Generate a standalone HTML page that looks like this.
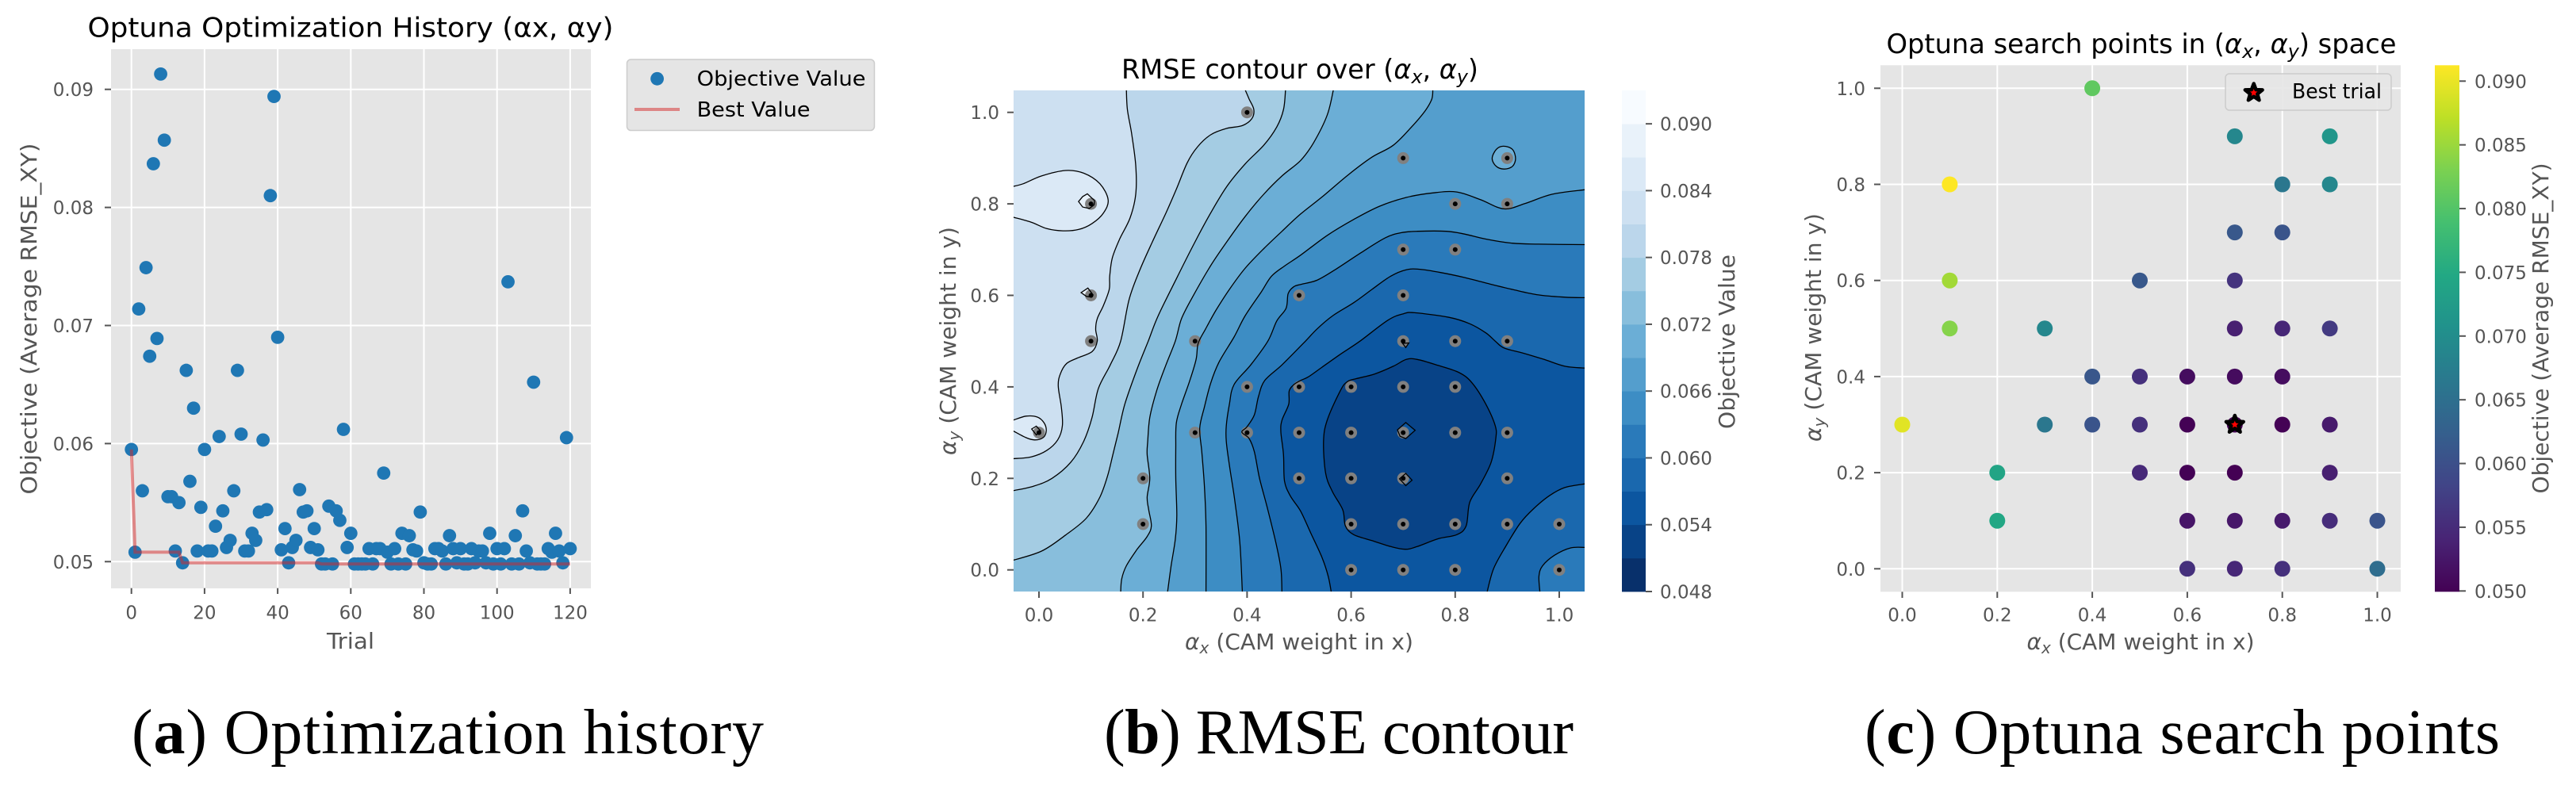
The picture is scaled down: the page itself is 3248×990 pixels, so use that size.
<!DOCTYPE html>
<html lang="en">
<head>
<meta charset="utf-8">
<title>Optuna optimization figure</title>
<style>
html,body{margin:0;padding:0;background:#fff;}
svg{display:block;}
text{font-family:"DejaVu Sans","Liberation Sans",sans-serif;}
.cap{font-family:"Liberation Serif","DejaVu Serif",serif;font-size:80px;fill:#000;}
.title{font-size:34px;fill:#000;text-anchor:middle;}
.lab{font-size:28px;fill:#555;text-anchor:middle;}
.tick{font-size:23px;fill:#555;}
.leg{font-size:26px;fill:#000;}
</style>
</head>
<body>
<svg id="fig" xmlns="http://www.w3.org/2000/svg" width="3248" height="990" viewBox="0 0 3248 990">
<defs>
<clipPath id="clipB"><rect x="1278" y="114" width="720" height="632"/></clipPath>
<linearGradient id="viridisGrad" x1="0" y1="1" x2="0" y2="0"></linearGradient>
</defs>
<rect x="0" y="0" width="3248" height="990" fill="#fff"/>

<g id="panelA">
<rect x="140" y="62" width="605" height="680" fill="#e5e5e5"/>
<g id="gridA"></g>
<g id="pointsA"></g>
<g id="lineA"></g>
<g id="ticksA"></g>
<text class="title" x="442" y="46.6" textLength="663" lengthAdjust="spacingAndGlyphs">Optuna Optimization History (αx, αy)</text>
<text class="lab" x="442" y="818" textLength="60" lengthAdjust="spacingAndGlyphs">Trial</text>
<text class="lab" transform="translate(46 402) rotate(-90)" textLength="443" lengthAdjust="spacingAndGlyphs">Objective (Average RMSE_XY)</text>
<g>
<rect x="790.5" y="75" width="312" height="89.5" rx="5" fill="#e5e5e5" stroke="#ccc" stroke-width="1.5"/>
<circle cx="828.6" cy="99.3" r="8.4" fill="#1f77b4"/>
<text class="leg" x="878.6" y="108" textLength="213" lengthAdjust="spacingAndGlyphs">Objective Value</text>
<line x1="800" y1="138" x2="857" y2="138" stroke="#d62728" stroke-opacity="0.5" stroke-width="4"/>
<text class="leg" x="878.6" y="147" textLength="143" lengthAdjust="spacingAndGlyphs">Best Value</text>
</g>
</g>

<g id="panelB">
<g id="contourFill" clip-path="url(#clipB)"></g>
<g id="pointsB"></g>
<g id="contourLine" clip-path="url(#clipB)"></g>
<g id="dotsB"></g>
<g id="ticksB"></g>
<g id="cbarB"></g>
<text class="title" x="1639" y="99" textLength="450" lengthAdjust="spacingAndGlyphs">RMSE contour over (<tspan font-style="italic">α</tspan><tspan font-style="italic" font-size="24" dy="6">x</tspan><tspan dy="-6">, </tspan><tspan font-style="italic">α</tspan><tspan font-style="italic" font-size="24" dy="6">y</tspan><tspan dy="-6">)</tspan></text>
<text class="lab" x="1638" y="819" textLength="288" lengthAdjust="spacingAndGlyphs"><tspan font-style="italic">α</tspan><tspan font-style="italic" font-size="20" dy="5">x</tspan><tspan dy="-5"> (CAM weight in x)</tspan></text>
<text class="lab" transform="translate(1205 430) rotate(-90)" textLength="288" lengthAdjust="spacingAndGlyphs"><tspan font-style="italic">α</tspan><tspan font-style="italic" font-size="20" dy="5">y</tspan><tspan dy="-5"> (CAM weight in y)</tspan></text>
<text class="lab" transform="translate(2187 431) rotate(-90)" textLength="220" lengthAdjust="spacingAndGlyphs">Objective Value</text>
</g>

<g id="panelC">
<rect x="2371" y="82.3" width="656" height="664" fill="#e5e5e5"/>
<g id="gridC"></g>
<g id="pointsC"></g>
<g id="starC"></g>
<g id="ticksC"></g>
<g id="cbarC"></g>
<text class="title" x="2700" y="67" textLength="643" lengthAdjust="spacingAndGlyphs">Optuna search points in (<tspan font-style="italic">α</tspan><tspan font-style="italic" font-size="24" dy="6">x</tspan><tspan dy="-6">, </tspan><tspan font-style="italic">α</tspan><tspan font-style="italic" font-size="24" dy="6">y</tspan><tspan dy="-6">) space</tspan></text>
<text class="lab" x="2699" y="819" textLength="287" lengthAdjust="spacingAndGlyphs"><tspan font-style="italic">α</tspan><tspan font-style="italic" font-size="20" dy="5">x</tspan><tspan dy="-5"> (CAM weight in x)</tspan></text>
<text class="lab" transform="translate(2296 413) rotate(-90)" textLength="288" lengthAdjust="spacingAndGlyphs"><tspan font-style="italic">α</tspan><tspan font-style="italic" font-size="20" dy="5">y</tspan><tspan dy="-5"> (CAM weight in y)</tspan></text>
<text class="lab" transform="translate(3213 414) rotate(-90)" textLength="417" lengthAdjust="spacingAndGlyphs">Objective (Average RMSE_XY)</text>
<g id="legendC">
<rect x="2806" y="93" width="209" height="46" rx="5" fill="#e5e5e5" fill-opacity="0.9" stroke="#ccc" stroke-width="1.5"/>
<text class="leg" x="2890" y="124" textLength="113" lengthAdjust="spacingAndGlyphs">Best trial</text>
</g>
</g>

<text class="cap" x="166" y="950" textLength="797">(<tspan font-weight="bold">a</tspan>) Optimization history</text>
<text class="cap" x="1392" y="950" textLength="592">(<tspan font-weight="bold">b</tspan>) RMSE contour</text>
<text class="cap" x="2351" y="950" textLength="801">(<tspan font-weight="bold">c</tspan>) Optuna search points</text>
</svg>

<script>
// ---------- panel (a) data ----------
const trialValues = [
.0595,.0508,.0714,.0560,.0749,.0674,.0837,.0689,.0913,.0857,
.0555,.0555,.0509,.0550,.0499,.0662,.0568,.0630,.0509,.0546,
.0595,.0509,.0509,.0530,.0606,.0543,.0512,.0518,.0560,.0662,
.0608,.0509,.0509,.0524,.0518,.0542,.0603,.0544,.0810,.0894,
.0690,.0510,.0528,.0499,.0512,.0518,.0561,.0542,.0543,.0512,
.0528,.0510,.0498,.0498,.0547,.0498,.0543,.0535,.0612,.0512,
.0524,.0498,.0498,.0498,.0498,.0511,.0498,.0511,.0511,.0575,
.0508,.0498,.0511,.0498,.0524,.0498,.0522,.0510,.0509,.0542,
.0499,.0498,.0498,.0511,.0511,.0509,.0498,.0522,.0511,.0499,
.0511,.0498,.0498,.0511,.0499,.0509,.0509,.0499,.0524,.0498,
.0511,.0498,.0511,.0737,.0498,.0522,.0498,.0543,.0509,.0499,
.0652,.0498,.0498,.0498,.0511,.0508,.0524,.0509,.0499,.0605,
.0511];
const bestTrials = [0,1,13,14,51,52,120];
const bestValues = [.0595,.0508,.0508,.0499,.0499,.0498,.0498];
const historyXTicks = [0,20,40,60,80,100,120];
const historyYTicks = [0.05,0.06,0.07,0.08,0.09];

// ---------- shared sample points for (b) and (c) ----------
const sampleX = [0,.1,.1,.1,.2,.2,.3,.3,.4,.4,.4,.5,.5,.5,.5,.6,.6,.6,.6,.6,.7,.7,.7,.7,.7,.7,.7,.7,.7,.8,.8,.8,.8,.8,.8,.8,.9,.9,.9,.9,.9,.9,1,1];
const sampleY = [.3,.8,.6,.5,.2,.1,.5,.3,1,.4,.3,.6,.4,.3,.2,.4,.3,.2,.1,0,.9,.7,.6,.5,.4,.3,.2,.1,0,.8,.7,.5,.4,.3,.1,0,.9,.8,.5,.3,.2,.1,.1,0];
const sampleObjective = [.0895,.0913,.0855,.0837,.0740,.0745,.0689,.0662,.0810,.0610,.0606,.0612,.0555,.0555,.0546,.0512,.0499,.0499,.0522,.0555,.0689,.0612,.0560,.0535,.0511,.0498,.0498,.0524,.0543,.0662,.0605,.0543,.0512,.0499,.0528,.0555,.0715,.0689,.0568,.0528,.0535,.0550,.0606,.0645];
const bestTrialX = [0.7];
const bestTrialY = [0.3];

// ---------- panel (b) contour data: [alpha_x, alpha_y] vertices per level ----------
const contourLevels = [.048,.051,.054,.057,.060,.063,.066,.069,.072,.075,.078,.081,.084,.087,.090,.093];
const contourBandColors = ['#08306b','#084387','#0c56a0','#1a68ae','#2a7aba','#3d8dc4','#549ecd','#6baed6','#88bedc','#a4cce3','#bbd6eb','#cde0f1','#dbe9f6','#e9f2fa','#f7fbff'];
const contourTicks = [.048,.054,.060,.066,.072,.078,.084,.090];
const axisTicks = [0,.2,.4,.6,.8,1];

const cornerTL = [[-.05,1.05]];
const cornerBLTL = [[-.05,-.05],[-.05,1.05]];
const cornerAll = [[-.05,-.05],[-.05,1.05],[1.05,1.05]];
const cornerBR = [[1.05,-.05]];

const level057 = [[1.05,.441],[1.011,.445],[.971,.460],[.930,.474],[.894,.485],[.877,.500],[.859,.518],[.828,.538],[.788,.552],[.722,.562],[.701,.560],[.671,.546],[.617,.500],[.579,.471],[.544,.443],[.518,.422],[.503,.414],[.490,.405],[.481,.391],[.480,.362],[.467,.327],[.465,.301],[.470,.252],[.472,.194],[.483,.162],[.503,.128],[.523,.079],[.544,.027],[.556,-.014],[.562,-.05]];
const level057corner = [[1.05,.188],[1.011,.180],[.981,.162],[.950,.133],[.925,.102],[.899,.055],[.874,.003],[.861,-.05]];
const level060 = [[1.05,.595],[1.011,.596],[.960,.601],[.910,.613],[.859,.627],[.818,.639],[.772,.650],[.732,.657],[.706,.656],[.676,.642],[.640,.613],[.605,.584],[.564,.555],[.534,.526],[.508,.495],[.467,.448],[.434,.414],[.422,.379],[.414,.339],[.400,.313],[.390,.301],[.404,.287],[.414,.258],[.424,.200],[.440,.131],[.455,.061],[.465,.003],[.467,-.05]];
const level060corner = [[1.05,.049],[1.022,.048],[.991,.032],[.968,.009],[.961,-.014],[.963,-.05]];
const level063 = [[1.05,.711],[.960,.712],[.910,.714],[.859,.723],[.818,.734],[.783,.740],[.727,.740],[.696,.737],[.666,.726],[.620,.694],[.569,.656],[.534,.633],[.503,.624],[.490,.619],[.479,.604],[.475,.572],[.457,.544],[.440,.500],[.407,.448],[.375,.405],[.366,.362],[.360,.315],[.360,.281],[.366,.229],[.376,.154],[.386,.061],[.391,-.05]];
const level066 = [[1.05,.831],[.986,.821],[.935,.801],[.894,.789],[.849,.809],[.803,.826],[.757,.824],[.706,.814],[.655,.795],[.605,.766],[.554,.731],[.503,.688],[.473,.665],[.447,.642],[.427,.607],[.396,.555],[.375,.509],[.346,.454],[.330,.408],[.318,.356],[.309,.310],[.313,.258],[.318,.183],[.321,.096],[.321,-.05]];
const level069 = [[.757,1.05],[.755,1.029],[.742,1.003],[.716,.968],[.681,.928],[.640,.902],[.595,.864],[.544,.815],[.503,.778],[.467,.740],[.432,.702],[.396,.659],[.366,.613],[.340,.567],[.320,.526],[.306,.495],[.302,.460],[.290,.414],[.274,.362],[.264,.321],[.263,.269],[.263,.200],[.265,.119],[.262,.067],[.254,.009],[.247,-.05]];
const level072 = [[.566,1.05],[.554,.994],[.528,.934],[.503,.895],[.467,.861],[.432,.821],[.396,.772],[.361,.717],[.330,.665],[.295,.596],[.274,.549],[.262,.500],[.244,.448],[.226,.391],[.213,.333],[.209,.281],[.208,.252],[.213,.200],[.208,.159],[.211,.131],[.216,.096],[.208,.073],[.188,.044],[.168,.009],[.159,-.020],[.157,-.05]];
const level075 = [[.474,1.05],[.470,1.006],[.457,.968],[.432,.928],[.396,.887],[.361,.838],[.330,.780],[.300,.717],[.264,.636],[.229,.555],[.210,.500],[.188,.437],[.165,.362],[.152,.298],[.142,.252],[.132,.206],[.117,.159],[.091,.113],[.051,.076],[.005,.041],[-.05,.021]];
const level078 = [[.396,1.05],[.404,1.029],[.413,1.006],[.409,.986],[.391,.971],[.361,.965],[.330,.951],[.305,.925],[.285,.890],[.264,.832],[.244,.780],[.218,.717],[.193,.653],[.173,.590],[.157,.500],[.137,.448],[.114,.396],[.102,.333],[.086,.281],[.061,.235],[.025,.200],[-.010,.183],[-.05,.173]];
const level081 = [[.168,1.05],[.170,1.006],[.178,.954],[.186,.884],[.186,.821],[.175,.769],[.155,.723],[.141,.682],[.136,.642],[.135,.613],[.124,.578],[.112,.549],[.109,.526],[.112,.500],[.102,.477],[.074,.463],[.053,.451],[.041,.428],[.037,.402],[.043,.356],[.045,.315],[.036,.284],[.015,.261],[-.015,.247],[-.05,.243]];
const level084a = [[-.05,.838],[-.030,.844],[.005,.861],[.051,.873],[.086,.867],[.117,.844],[.133,.809],[.124,.780],[.102,.757],[.076,.744],[.046,.741],[.015,.746],[-.015,.760],[-.05,.771]];
const level084b = [[-.05,.327],[-.025,.336],[-.003,.334],[.010,.321],[.014,.304],[.008,.289],[-.008,.284],[-.025,.289],[-.05,.304]];
const level051core = [[.706,.460],[.727,.460],[.767,.447],[.808,.431],[.833,.408],[.859,.362],[.877,.315],[.878,.287],[.869,.235],[.849,.188],[.828,.148],[.821,.096],[.803,.077],[.767,.068],[.727,.051],[.704,.045],[.676,.051],[.640,.064],[.605,.077],[.589,.096],[.584,.131],[.564,.171],[.551,.211],[.547,.281],[.554,.327],[.579,.391],[.592,.411],[.610,.418],[.645,.428],[.681,.445]];
const spot087a = [[.076,.805],[.084,.816],[.093,.822],[.107,.807],[.106,.798],[.097,.790],[.084,.793]];
const spot087b = [[.081,.606],[.094,.616],[.104,.601],[.101,.596],[.091,.598]];
const spot087c = [[-.014,.308],[-.005,.314],[.003,.304],[-.005,.295]];
const spot054a = [[.689,.306],[.705,.322],[.723,.305],[.705,.287],[.694,.292]];
const spot054b = [[.693,.199],[.705,.211],[.717,.196],[.705,.184]];
const spot057 = [[.699,.495],[.705,.486],[.711,.496]];
const ring069 = [[.893,.926],[.910,.919],[.916,.899],[.910,.882],[.894,.876],[.879,.882],[.871,.899],[.879,.919]];

// ---------- panel (c) colorbar ticks ----------
const searchCbarTicks = [.050,.055,.060,.065,.070,.075,.080,.085,.090];
const viridisStops = ['#440154','#482475','#414487','#355f8d','#2a788e','#21918c','#22a884','#44bf70','#7ad151','#bddf26','#fde725'];

// ---------- helpers ----------
const NS = 'http://www.w3.org/2000/svg';
function mk(parentId, tag, attrs) {
  const el = document.createElementNS(NS, tag);
  for (const k in attrs) el.setAttribute(k, attrs[k]);
  document.getElementById(parentId).appendChild(el);
  return el;
}
function mkText(parentId, str, attrs) {
  const el = mk(parentId, 'text', attrs);
  el.textContent = str;
  return el;
}
function hexToRgb(h) { return [parseInt(h.slice(1,3),16), parseInt(h.slice(3,5),16), parseInt(h.slice(5,7),16)]; }
function viridis(t) {
  t = Math.max(0, Math.min(1, t));
  const p = t * (viridisStops.length - 1);
  const i = Math.min(Math.floor(p), viridisStops.length - 2);
  const a = hexToRgb(viridisStops[i]), b = hexToRgb(viridisStops[i + 1]);
  const f = p - i;
  return 'rgb(' + a.map((v, k) => Math.round(v + (b[k] - v) * f)).join(',') + ')';
}
function smooth(pts, closed, sx, sy) {
  const P = pts.map(p => [sx(p[0]), sy(p[1])]);
  const n = P.length;
  const at = i => closed ? P[(i + n) % n] : P[Math.max(0, Math.min(n - 1, i))];
  let d = 'M' + P[0][0].toFixed(1) + ' ' + P[0][1].toFixed(1);
  const segs = closed ? n : n - 1;
  for (let i = 0; i < segs; i++) {
    const p0 = at(i - 1), p1 = at(i), p2 = at(i + 1), p3 = at(i + 2);
    const c1x = p1[0] + (p2[0] - p0[0]) / 6, c1y = p1[1] + (p2[1] - p0[1]) / 6;
    const c2x = p2[0] - (p3[0] - p1[0]) / 6, c2y = p2[1] - (p3[1] - p1[1]) / 6;
    d += 'C' + c1x.toFixed(1) + ' ' + c1y.toFixed(1) + ' ' + c2x.toFixed(1) + ' ' + c2y.toFixed(1) + ' ' + p2[0].toFixed(1) + ' ' + p2[1].toFixed(1);
  }
  return d;
}
function polyPath(pts, sx, sy) {
  return 'M' + pts.map(p => sx(p[0]).toFixed(1) + ' ' + sy(p[1]).toFixed(1)).join('L') + 'Z';
}

// ---------- panel (a) ----------
const xTrial = t => 165.7 + t * 4.61;
const yObj = v => 708.3 - (v - 0.05) * 14890;
historyXTicks.forEach(t => {
  const g = mk('gridA', 'line', {x1: xTrial(t), x2: xTrial(t), y1: 62, y2: 741.7, stroke: '#fff', 'stroke-width': 2});
  
  
  const m = mk('ticksA', 'line', {x1: xTrial(t), x2: xTrial(t), y1: 741.7, y2: 749, stroke: '#555', 'stroke-width': 2});
  
  
  const l = mkText('ticksA', String(t), {x: xTrial(t), y: 780.5, 'text-anchor': 'middle', 'class': 'tick'});
  
  
});
historyYTicks.forEach(v => {
  const g = mk('gridA', 'line', {x1: 140, x2: 745, y1: yObj(v), y2: yObj(v), stroke: '#fff', 'stroke-width': 2});
  
  
  const m = mk('ticksA', 'line', {x1: 132, x2: 140, y1: yObj(v), y2: yObj(v), stroke: '#555', 'stroke-width': 2});
  
  
  const l = mkText('ticksA', v.toFixed(2), {x: 118, y: yObj(v) + 8.5, 'text-anchor': 'end', 'class': 'tick'});
  
  
});
trialValues.forEach((v, t) => {
  const c = mk('pointsA', 'circle', {cx: xTrial(t), cy: yObj(v), r: 8.4, fill: '#1f77b4'});
  
  
});
const bestLine = mk('lineA', 'polyline', {
  points: bestTrials.map((t, i) => xTrial(t).toFixed(1) + ',' + yObj(bestValues[i]).toFixed(1)).join(' '),
  fill: 'none', stroke: '#d62728', 'stroke-opacity': 0.5, 'stroke-width': 4
});



// ---------- panel (b) ----------
const xB = a => 1310 + a * 656;
const yB = a => 718.7 - a * 577;
const yBar = v => 746 - (v - .048) * 14044;

const base = mk('contourFill', 'rect', {x: 1278, y: 114, width: 720, height: 632, fill: contourBandColors[2]});



function band(curve, close, bandIndex, closedCurve) {
  let d = smooth(curve, !!closedCurve, xB, yB);
  if (!closedCurve) close.forEach(p => { d += 'L' + xB(p[0]).toFixed(1) + ' ' + yB(p[1]).toFixed(1); });
  d += 'Z';
  const f = mk('contourFill', 'path', {d: d, fill: contourBandColors[bandIndex]});
  
  
  const s = mk('contourLine', 'path', {d: smooth(curve, !!closedCurve, xB, yB), fill: 'none', stroke: '#000', 'stroke-width': 1.3});
  
  
}
function spot(pts, bandIndex) {
  const d = polyPath(pts, xB, yB);
  const f = mk('contourFill', 'path', {d: d, fill: contourBandColors[bandIndex]});
  
  
  const s = mk('contourLine', 'path', {d: d, fill: 'none', stroke: '#000', 'stroke-width': 1.3});
  
  
}
band(level057, cornerAll, 3);
band(level057corner, cornerBR, 3);
band(level060, cornerAll, 4);
band(level060corner, cornerBR, 4);
band(level063, cornerAll, 5);
band(level066, cornerAll, 6);
band(level069, cornerBLTL, 7);
band(level072, cornerBLTL, 8);
band(level075, cornerTL, 9);
band(level078, cornerTL, 10);
band(level081, cornerTL, 11);
band(level084a, [], 12);
band(level084b, [], 12);
band(level051core, [], 1, true);
band(ring069, [], 7, true);
spot(spot087a, 13);
spot(spot087b, 13);
spot(spot087c, 13);
spot(spot054a, 2);
spot(spot054b, 2);
spot(spot057, 3);

sampleX.forEach((x, i) => {
  const c = mk('pointsB', 'circle', {cx: xB(x), cy: yB(sampleY[i]), r: 7.5, fill: '#808080'});
  
  
  const d = mk('dotsB', 'circle', {cx: xB(x), cy: yB(sampleY[i]), r: 3, fill: '#000'});
  
  
});
axisTicks.forEach(a => {
  const mx = mk('ticksB', 'line', {x1: xB(a), x2: xB(a), y1: 746, y2: 754, stroke: '#555', 'stroke-width': 2});
  
  
  const lx = mkText('ticksB', a.toFixed(1), {x: xB(a), y: 783.5, 'text-anchor': 'middle', 'class': 'tick'});
  
  
  const my = mk('ticksB', 'line', {x1: 1270, x2: 1278, y1: yB(a), y2: yB(a), stroke: '#555', 'stroke-width': 2});
  
  
  const ly = mkText('ticksB', a.toFixed(1), {x: 1260, y: yB(a) + 8.5, 'text-anchor': 'end', 'class': 'tick'});
  
  
});
contourBandColors.forEach((col, i) => {
  const top = yBar(contourLevels[i + 1]), bot = yBar(contourLevels[i]);
  const r = mk('cbarB', 'rect', {x: 2045, y: top, width: 30, height: bot - top + 0.4, fill: col});
  
  
});
contourTicks.forEach(v => {
  const m = mk('cbarB', 'line', {x1: 2075, x2: 2083, y1: yBar(v), y2: yBar(v), stroke: '#555', 'stroke-width': 2});
  
  
  const l = mkText('cbarB', v.toFixed(3), {x: 2093, y: yBar(v) + 8.5, 'class': 'tick'});
  
  
});

// ---------- panel (c) ----------
const xC = a => 2398.5 + a * 599;
const yC = a => 717.3 - a * 606;
const cbMin = .0498, cbMax = .0913;
const grad = document.getElementById('viridisGrad');
viridisStops.forEach((col, i) => {
  const st = document.createElementNS(NS, 'stop');
  st.setAttribute('offset', (i / (viridisStops.length - 1)));
  st.setAttribute('stop-color', col);
  grad.appendChild(st);
});
axisTicks.forEach(a => {
  const gx = mk('gridC', 'line', {x1: xC(a), x2: xC(a), y1: 82.3, y2: 746.3, stroke: '#fff', 'stroke-width': 2});
  
  
  const gy = mk('gridC', 'line', {x1: 2371, x2: 3027, y1: yC(a), y2: yC(a), stroke: '#fff', 'stroke-width': 2});
  
  
  const mx = mk('ticksC', 'line', {x1: xC(a), x2: xC(a), y1: 746.3, y2: 754, stroke: '#555', 'stroke-width': 2});
  
  
  const lx = mkText('ticksC', a.toFixed(1), {x: xC(a), y: 783.5, 'text-anchor': 'middle', 'class': 'tick'});
  
  
  const my = mk('ticksC', 'line', {x1: 2363, x2: 2371, y1: yC(a), y2: yC(a), stroke: '#555', 'stroke-width': 2});
  
  
  const ly = mkText('ticksC', a.toFixed(1), {x: 2352, y: yC(a) + 8.5, 'text-anchor': 'end', 'class': 'tick'});
  
  
});
sampleX.forEach((x, i) => {
  const c = mk('pointsC', 'circle', {cx: xC(x), cy: yC(sampleY[i]), r: 10, fill: viridis((sampleObjective[i] - cbMin) / (cbMax - cbMin))});
  
  
});
function starPath(cx, cy, R) {
  let d = '';
  for (let i = 0; i < 10; i++) {
    const r = i % 2 ? R * 0.42 : R;
    const a = -Math.PI / 2 + i * Math.PI / 5;
    d += (i ? 'L' : 'M') + (cx + r * Math.cos(a)).toFixed(1) + ' ' + (cy + r * Math.sin(a)).toFixed(1);
  }
  return d + 'Z';
}
bestTrialX.forEach((x, i) => {
  const s = mk('starC', 'path', {d: starPath(xC(x), yC(bestTrialY[i]), 11.5), fill: '#f00', stroke: '#000', 'stroke-width': 4.5, 'stroke-linejoin': 'round'});
  
  
});
const legStar = mk('legendC', 'path', {d: starPath(2841.7, 117, 11.5), fill: '#f00', stroke: '#000', 'stroke-width': 4.5, 'stroke-linejoin': 'round'});


const cbRect = mk('cbarC', 'rect', {x: 3070, y: 82.3, width: 31, height: 664, fill: 'url(#viridisGrad)'});


searchCbarTicks.forEach(v => {
  const yy = 745.3 - (v - .050) * 16075;
  const m = mk('cbarC', 'line', {x1: 3101, x2: 3109, y1: yy, y2: yy, stroke: '#555', 'stroke-width': 2});
  
  
  const l = mkText('cbarC', v.toFixed(3), {x: 3120, y: yy + 8.5, 'class': 'tick'});
  
  
});
</script>
</body>
</html>
